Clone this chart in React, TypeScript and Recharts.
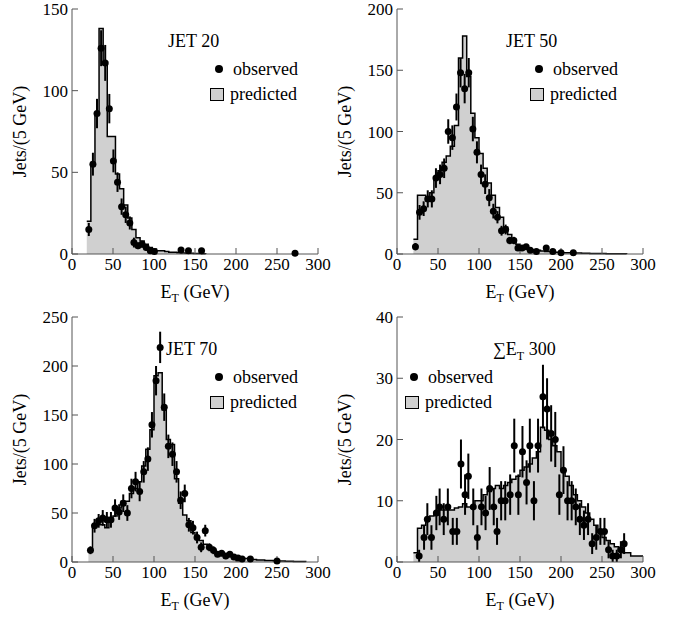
import React from "react";
import { ComposedChart, Area, Scatter, ErrorBar, XAxis, YAxis } from "recharts";

// histogram bin left edges (5 GeV bins); predicted counts per bin
const jet20Edges = [18, 23, 28, 33, 38, 43, 48, 53, 58, 63, 68, 73, 78, 83, 88, 93, 98, 103, 108, 113, 118, 123, 128, 133, 138, 143, 148, 153, 158, 163];
const jet20Pred = [20, 56, 86, 138, 116, 72, 72, 49, 40, 30, 22, 15, 10, 8, 6, 4, 3, 2, 2, 1.5, 1, 1, 0.8, 0.6, 0.5, 0.4, 0.3, 0.3, 0.2, 0];
const jet20ObsX = [20.5, 25.5, 30.5, 35.5, 40.5, 45.5, 50.5, 55.5, 60.5, 65.5, 70.5, 75.5, 80.5, 85.5, 90.5, 95.5, 100.5, 133, 142, 158, 272];
const jet20ObsY = [15, 55, 86, 126, 117, 89, 57, 44, 29, 24, 19, 7, 5, 6, 4, 2, 1.5, 2.5, 2, 2, 0.5];
const jet20Err = [4, 7, 9, 11, 11, 9, 7, 6, 5, 5, 4, 3, 2, 2, 2, 1.5, 1, 1.5, 1.5, 1.5, 0.5];

const jet50Edges = [20, 25, 30, 35, 40, 45, 50, 55, 60, 65, 70, 75, 80, 85, 90, 95, 100, 105, 110, 115, 120, 125, 130, 135, 140, 145, 150, 155, 160, 165, 170, 175, 180, 185, 190, 195, 200, 205, 210, 215, 220, 225, 230, 235, 240, 245, 250, 255, 260, 265, 270, 275, 280];
const jet50Pred = [12, 48, 48, 45, 50, 63, 68, 75, 80, 88, 105, 160, 178, 145, 115, 95, 82, 70, 58, 48, 38, 30, 22, 16, 11, 8, 6, 5, 4, 3.5, 3, 2.5, 2, 2, 1.5, 1.5, 1, 1, 1, 0.8, 0.8, 0.6, 0.6, 0.5, 0.5, 0.4, 0.4, 0.3, 0.3, 0.3, 0.2, 0.2, 0];
const jet50ObsX = [22.5, 27.5, 32.5, 37.5, 42.5, 47.5, 52.5, 57.5, 62.5, 67.5, 72.5, 77.5, 82.5, 87.5, 92.5, 97.5, 102.5, 107.5, 112.5, 117.5, 122.5, 127.5, 132.5, 137.5, 142.5, 147.5, 152.5, 157.5, 162.5, 170, 182, 190, 200, 215];
const jet50ObsY = [6, 34, 37, 45, 45, 62, 65, 70, 100, 95, 120, 148, 135, 148, 102, 83, 65, 57, 46, 35, 30, 19, 20, 11, 11, 5, 5, 6, 3, 2, 5, 2, 1, 1];
const jet50Err = [3, 6, 6, 7, 7, 8, 8, 8, 10, 10, 11, 12, 12, 12, 10, 9, 8, 8, 7, 6, 5, 4, 4, 3, 3, 2, 2, 2, 2, 1.5, 2, 1.5, 1, 1];

const jet70Edges = [20, 25, 30, 35, 40, 45, 50, 55, 60, 65, 70, 75, 80, 85, 90, 95, 100, 105, 110, 115, 120, 125, 130, 135, 140, 145, 150, 155, 160, 165, 170, 175, 180, 185, 190, 195, 200, 205, 210, 215, 220, 225, 230, 235, 240, 245, 250, 255, 260, 265, 270, 275, 280, 285];
const jet70Pred = [12, 37, 38, 38, 35, 45, 47, 55, 62, 62, 70, 75, 82, 98, 115, 135, 190, 193, 155, 125, 120, 85, 60, 48, 42, 30, 25, 22, 18, 15, 12, 10, 9, 8, 7, 6, 5, 4, 3.5, 3, 2.5, 2, 2, 1.5, 1.5, 1.2, 1, 1, 0.8, 0.8, 0.6, 0.5, 0.5, 0];
const jet70ObsX = [22.5, 27.5, 32.5, 37.5, 42.5, 47.5, 52.5, 57.5, 62.5, 67.5, 72.5, 77.5, 82.5, 87.5, 92.5, 97.5, 102.5, 107.5, 112.5, 117.5, 122.5, 127.5, 132.5, 137.5, 142.5, 147.5, 152.5, 157.5, 162.5, 167.5, 172.5, 177.5, 182.5, 187.5, 192.5, 197.5, 202.5, 207.5, 217.5, 250];
const jet70ObsY = [12, 37, 42, 45, 43, 43, 55, 51, 60, 50, 75, 82, 72, 92, 105, 140, 185, 219, 158, 118, 110, 92, 63, 70, 38, 35, 25, 15, 32, 15, 12, 8, 9, 6, 8, 5, 4, 3, 3, 1];
const jet70Err = [4, 7, 7, 8, 8, 8, 9, 8, 9, 8, 10, 10, 10, 11, 12, 13, 15, 16, 14, 12, 12, 11, 9, 9, 7, 7, 6, 5, 6, 4, 4, 3, 3, 3, 3, 2, 2, 2, 2, 1];

const setEdges = [20, 25, 30, 35, 40, 45, 50, 55, 60, 65, 70, 75, 80, 85, 90, 95, 100, 105, 110, 115, 120, 125, 130, 135, 140, 145, 150, 155, 160, 165, 170, 175, 180, 185, 190, 195, 200, 205, 210, 215, 220, 225, 230, 235, 240, 245, 250, 255, 260, 265, 270, 275, 280, 285, 290, 295, 300];
const setPred = [1.5, 5.5, 6, 7, 7.5, 8, 8.5, 8.5, 8.5, 8.5, 8.8, 9, 9.5, 9, 9, 10, 10, 11, 11.5, 12, 12.5, 12, 12.5, 13, 13.5, 14, 15, 15.5, 16, 17, 18, 22, 21.5, 20, 19, 18, 15, 14, 12.5, 11, 10, 9, 8, 7, 6, 5, 4, 3.5, 3, 2.5, 2, 1.5, 1.5, 1, 1, 1, 1];
const setObsX = [27, 33, 37, 42, 48, 52, 57, 62, 68, 73, 78, 83, 87, 93, 98, 103, 108, 113, 118, 122, 127, 132, 138, 143, 148, 153, 158, 162, 167, 172, 178, 183, 188, 193, 198, 203, 208, 213, 218, 223, 228, 233, 238, 243, 248, 253, 258, 263, 268, 273, 277];
const setObsY = [1, 4, 7, 4, 8, 9, 7, 9, 5, 5, 16, 11, 14, 9, 4, 9, 8, 12, 9, 5, 10, 10, 11, 19, 11, 18, 13, 19, 10, 19, 27, 25, 21, 20, 11, 15, 10, 10, 9, 7, 6, 7, 3, 4, 5, 5, 2, 1, 1, 2, 3];
const setErr = [1, 2, 2.6, 2, 2.8, 3, 2.6, 3, 2.2, 2.2, 4, 3.3, 3.7, 3, 2, 3, 2.8, 3.5, 3, 2.2, 3.2, 3.2, 3.3, 4.4, 3.3, 4.2, 3.6, 4.4, 3.2, 4.4, 5.2, 5, 4.6, 4.5, 3.3, 3.9, 3.2, 3.2, 3, 2.6, 2.4, 2.6, 1.7, 2, 2.2, 2.2, 1.4, 1, 1, 1.4, 1.7];

const xMajor = [0, 50, 100, 150, 200, 250, 300];
const xMinor = [10, 20, 30, 40, 60, 70, 80, 90, 110, 120, 130, 140, 160, 170, 180, 190, 210, 220, 230, 240, 260, 270, 280, 290];

const FONT = "'Liberation Serif', 'DejaVu Serif', serif";
const FRAME = "#555";

function range(step: number, max: number) {
  const out: number[] = [];
  for (let v = 0; v <= max; v += step) out.push(v);
  return out;
}

interface PanelProps {
  left: number;
  top: number;
  title: React.ReactNode;
  yMax: number;
  yMajorStep: number;
  yMinorStep: number;
  edges: number[];
  pred: number[];
  obsX: number[];
  obsY: number[];
  err: number[];
  legendLeft: number;
  legendTop: number;
  titleLeft: number;
  titleTop: number;
}

function Panel(p: PanelProps) {
  const hist = p.edges.map((e, i) => ({ x: e, pred: p.pred[i] }));
  const obs = p.obsX.map((x, i) => ({ x, y: p.obsY[i], err: p.err[i] }));
  const yMajor = range(p.yMajorStep, p.yMax);
  const yMinor = range(p.yMinorStep, p.yMax).filter((v) => v % p.yMajorStep !== 0);
  const tickStyle = { fontSize: 17, fontFamily: FONT, fill: "#000" };
  const noLabel = () => "";
  return (
    <div style={{ position: "absolute", left: p.left, top: p.top, width: 340, height: 310, fontFamily: FONT }}>
      <ComposedChart width={340} height={310} margin={{ top: 9, right: 22, bottom: 26, left: 32 }} style={{ fontFamily: FONT }}>
        <XAxis xAxisId="minor" type="number" dataKey="x" domain={[0, 300]} ticks={xMinor} height={0} tickSize={-3} tickFormatter={noLabel} axisLine={{ stroke: FRAME }} tickLine={{ stroke: FRAME }} interval={0} />
        <XAxis xAxisId="main" type="number" dataKey="x" domain={[0, 300]} ticks={xMajor} height={30} tickSize={-6} tickMargin={10} tick={tickStyle} axisLine={{ stroke: FRAME }} tickLine={{ stroke: FRAME }} interval={0}
          label={{ content: (props: any) => { const vb = props.viewBox; return (
            <text x={vb.x + vb.width / 2} y={vb.y + 44} textAnchor="middle" fontFamily={FONT} fontSize={18} fill="#000">
              E<tspan dy={4} fontSize={12}>T</tspan><tspan dy={-4}> (GeV)</tspan>
            </text>); } }} />
        <XAxis xAxisId="topMinor" orientation="top" type="number" domain={[0, 300]} ticks={xMinor} height={0} tickSize={-3} tickFormatter={noLabel} axisLine={{ stroke: FRAME }} tickLine={{ stroke: FRAME }} interval={0} />
        <XAxis xAxisId="topMajor" orientation="top" type="number" domain={[0, 300]} ticks={xMajor} height={0} tickSize={-6} tickFormatter={noLabel} axisLine={{ stroke: FRAME }} tickLine={{ stroke: FRAME }} interval={0} />
        <YAxis yAxisId="minor" type="number" domain={[0, p.yMax]} ticks={yMinor} width={0} tickSize={-3} tickFormatter={noLabel} axisLine={{ stroke: FRAME }} tickLine={{ stroke: FRAME }} interval={0} />
        <YAxis yAxisId="main" type="number" domain={[0, p.yMax]} ticks={yMajor} width={40} tickSize={-6} tickMargin={10} tick={tickStyle} axisLine={{ stroke: FRAME }} tickLine={{ stroke: FRAME }} interval={0}
          label={{ content: (props: any) => { const vb = props.viewBox; const cy = vb.y + vb.height / 2; return (
            <text x={26} y={cy} transform={`rotate(-90 26 ${cy})`} textAnchor="middle" fontFamily={FONT} fontSize={18} fill="#000">Jets/(5 GeV)</text>); } }} />
        <YAxis yAxisId="rMinor" orientation="right" type="number" domain={[0, p.yMax]} ticks={yMinor} width={0} tickSize={-3} tickFormatter={noLabel} axisLine={{ stroke: FRAME }} tickLine={{ stroke: FRAME }} interval={0} />
        <YAxis yAxisId="rMajor" orientation="right" type="number" domain={[0, p.yMax]} ticks={yMajor} width={0} tickSize={-6} tickFormatter={noLabel} axisLine={{ stroke: FRAME }} tickLine={{ stroke: FRAME }} interval={0} />
        <Area xAxisId="main" yAxisId="main" data={hist} dataKey="pred" type="stepAfter" fill="#d0d0d0" fillOpacity={1} stroke="#000" strokeWidth={1.5} isAnimationActive={false} dot={false} activeDot={false} />
        <Scatter xAxisId="main" yAxisId="main" data={obs} dataKey="y" fill="#000" isAnimationActive={false}
          shape={(s: any) => <circle cx={s.cx} cy={s.cy} r={3.5} fill="#000" />}>
          <ErrorBar dataKey="err" direction="y" width={0} stroke="#000" strokeWidth={2} />
        </Scatter>
      </ComposedChart>
      <div style={{ position: "absolute", left: p.titleLeft, top: p.titleTop, fontSize: 18, whiteSpace: "nowrap" }}>{p.title}</div>
      <div style={{ position: "absolute", left: p.legendLeft, top: p.legendTop, fontSize: 18, lineHeight: "25px", whiteSpace: "nowrap" }}>
        <div><span style={{ display: "inline-block", width: 8, height: 8, borderRadius: 4, background: "#000", margin: "0 10px 2px 5px" }} />observed</div>
        <div><span style={{ display: "inline-block", width: 14, height: 13, background: "#d0d0d0", border: "1px solid #000", margin: "0 6px -1px 0", boxSizing: "border-box" }} />predicted</div>
      </div>
    </div>
  );
}

export default function App() {
  return (
    <div style={{ position: "absolute", left: 0, top: 0, width: 681, height: 620, background: "#fff" }}>
      <Panel left={0} top={0} title="JET 20" yMax={150} yMajorStep={50} yMinorStep={10} edges={jet20Edges} pred={jet20Pred} obsX={jet20ObsX} obsY={jet20ObsY} err={jet20Err} titleLeft={168} titleTop={31} legendLeft={210} legendTop={57} />
      <Panel left={325} top={0} title="JET 50" yMax={200} yMajorStep={50} yMinorStep={10} edges={jet50Edges} pred={jet50Pred} obsX={jet50ObsX} obsY={jet50ObsY} err={jet50Err} titleLeft={181} titleTop={31} legendLeft={205} legendTop={57} />
      <Panel left={0} top={308} title="JET 70" yMax={250} yMajorStep={50} yMinorStep={10} edges={jet70Edges} pred={jet70Pred} obsX={jet70ObsX} obsY={jet70ObsY} err={jet70Err} titleLeft={166} titleTop={31} legendLeft={210} legendTop={57} />
      <Panel left={325} top={308} title={<span>∑E<sub style={{ fontSize: 12 }}>T</sub> 300</span>} yMax={40} yMajorStep={10} yMinorStep={2} edges={setEdges} pred={setPred} obsX={setObsX} obsY={setObsY} err={setErr} titleLeft={168} titleTop={31} legendLeft={80} legendTop={57} />
    </div>
  );
}
